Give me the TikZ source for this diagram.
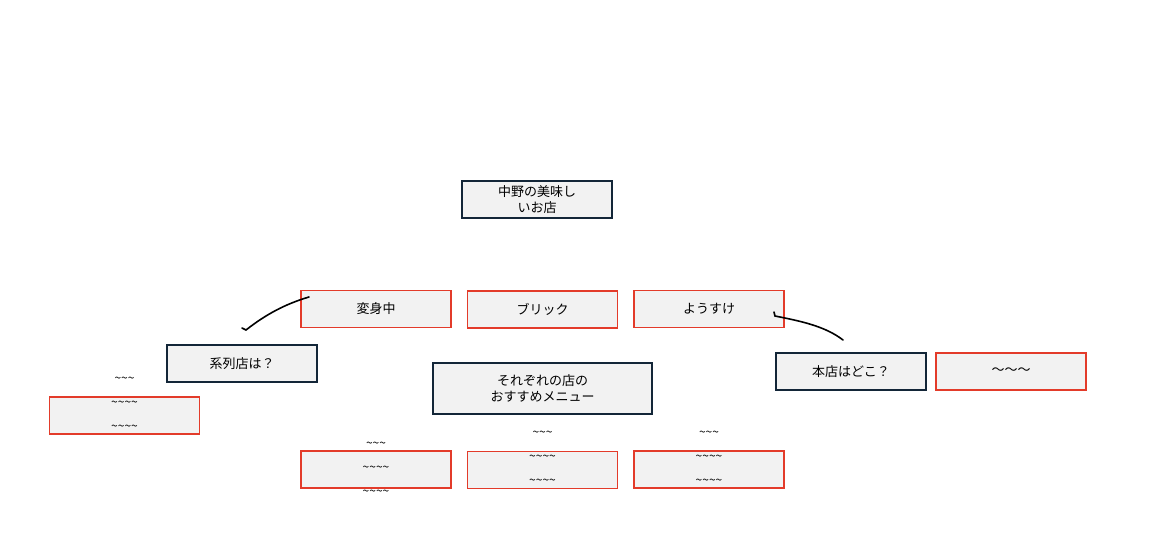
\documentclass[tikz,border=0pt]{standalone}
\usepackage{fontspec}
\setmainfont{Noto Sans CJK JP}
\begin{document}
\begin{tikzpicture}[x=1pt,y=-1pt,
  box/.style={draw=#1,fill=black!5,line width=1.4pt,minimum height=37pt,minimum width=150pt,inner sep=0pt,font=\fontsize{13}{16}\selectfont,align=center},
  box/.default={red!75!orange!90!black},
  tl/.style={font=\fontsize{12}{14}\selectfont,inner sep=0pt}]
\useasboundingbox (0,0) rectangle (1150,552);
\definecolor{navy}{HTML}{132638}
\definecolor{rd}{HTML}{E33B2A}
\node[box=navy] (top) at (537,199.5) {中野の美味し\\いお店};
\node[box=rd] (henshin) at (376,309) {変身中};
\node[box=rd] (brick) at (542.5,309.5) {ブリック};
\node[box=rd] (yosuke) at (709,309) {ようすけ};
\node[box=navy] (keiretsu) at (242,363.5) {系列店は？};
\node[box=navy,minimum width=219pt,minimum height=51pt] (menu) at (542.5,388.5) {それぞれの店の\\おすすめメニュー};
\node[box=navy] (honten) at (851,371.5) {本店はどこ？};
\node[box=rd] (ans) at (1011,371.5) {〜〜〜};
\node[box=rd] (b0) at (124.5,415.5) {};
\node[box=rd] (b1) at (376,469.5) {};
\node[box=rd] (b2) at (542.5,470) {};
\node[box=rd] (b3) at (709,469.5) {};
\foreach \n/\x/\y in {b0/124.5/380, b1/376/445, b2/542.5/434, b3/709/434}{
  \node[tl] (\n a) at (\x,\y) {\textasciitilde\textasciitilde\textasciitilde};
  \node[tl] (\n b) at (\x,\y+24) {\textasciitilde\textasciitilde\textasciitilde\textasciitilde};
  \node[tl] (\n c) at (\x,\y+48) {\textasciitilde\textasciitilde\textasciitilde\textasciitilde};
}
\draw[line width=1.6pt,line cap=round] (309,297) .. controls (285,304) and (265,315) .. (246,330) -- (242,328);
\draw[line width=1.6pt,line cap=round] (774,312) -- (775,316) .. controls (800,321) and (825,326) .. (843,340);
\end{tikzpicture}
\end{document}
